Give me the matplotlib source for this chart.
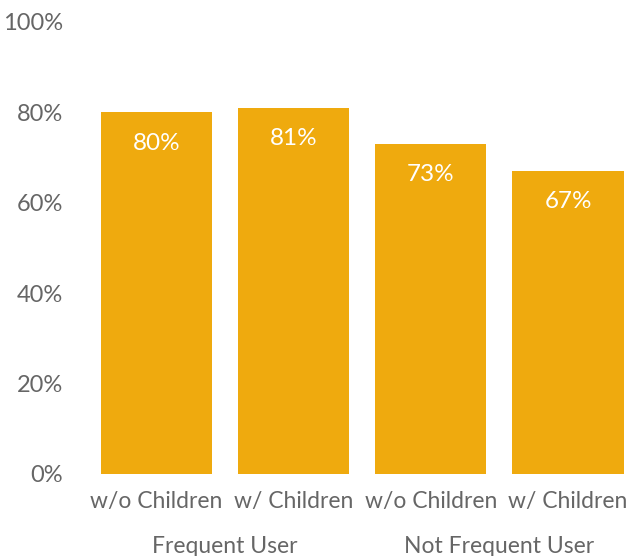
import matplotlib.pyplot as plt

categories = ["w/o Children", "w/ Children", "w/o Children", "w/ Children"]
values = [80, 81, 73, 67]
labels = ["80%", "81%", "73%", "67%"]
groups = ["Frequent User", "Not Frequent User"]
y_ticks = [0, 20, 40, 60, 80, 100]
y_tick_labels = ["0%", "20%", "40%", "60%", "80%", "100%"]

bar_color = "#EFAA0E"
text_color = "#666666"
plt.rcParams['font.family'] = ['Lato', 'DejaVu Sans']

fig = plt.figure(figsize=(6.28, 5.56), dpi=100)
ax = fig.add_axes([88 / 628, 82 / 556, 1 - 88 / 628, 452 / 556])

x = list(range(len(values)))
ax.bar(x, values, width=0.81, color=bar_color)
for xi, v, lab in zip(x, values, labels):
    ax.text(xi, v - 6.8, lab, ha='center', va='center', color='white',
            fontsize=17.5)

ax.set_xlim(-0.499, 3.437)
ax.set_ylim(0, 100)
ax.set_yticks(y_ticks)
ax.set_yticklabels(y_tick_labels, fontsize=17, color=text_color)
ax.set_xticks(x)
ax.set_xticklabels(categories, fontsize=16.5, color=text_color)
ax.tick_params(length=0)
ax.tick_params(axis='y', pad=18)
ax.tick_params(axis='x', pad=12)
for s in ax.spines.values():
    s.set_visible(False)

for i, g in enumerate(groups):
    ax.text(2 * i + 0.5, -16, g, ha='center', va='center', fontsize=16.5,
            color=text_color, clip_on=False)

fig.savefig("out.png", dpi=100)
